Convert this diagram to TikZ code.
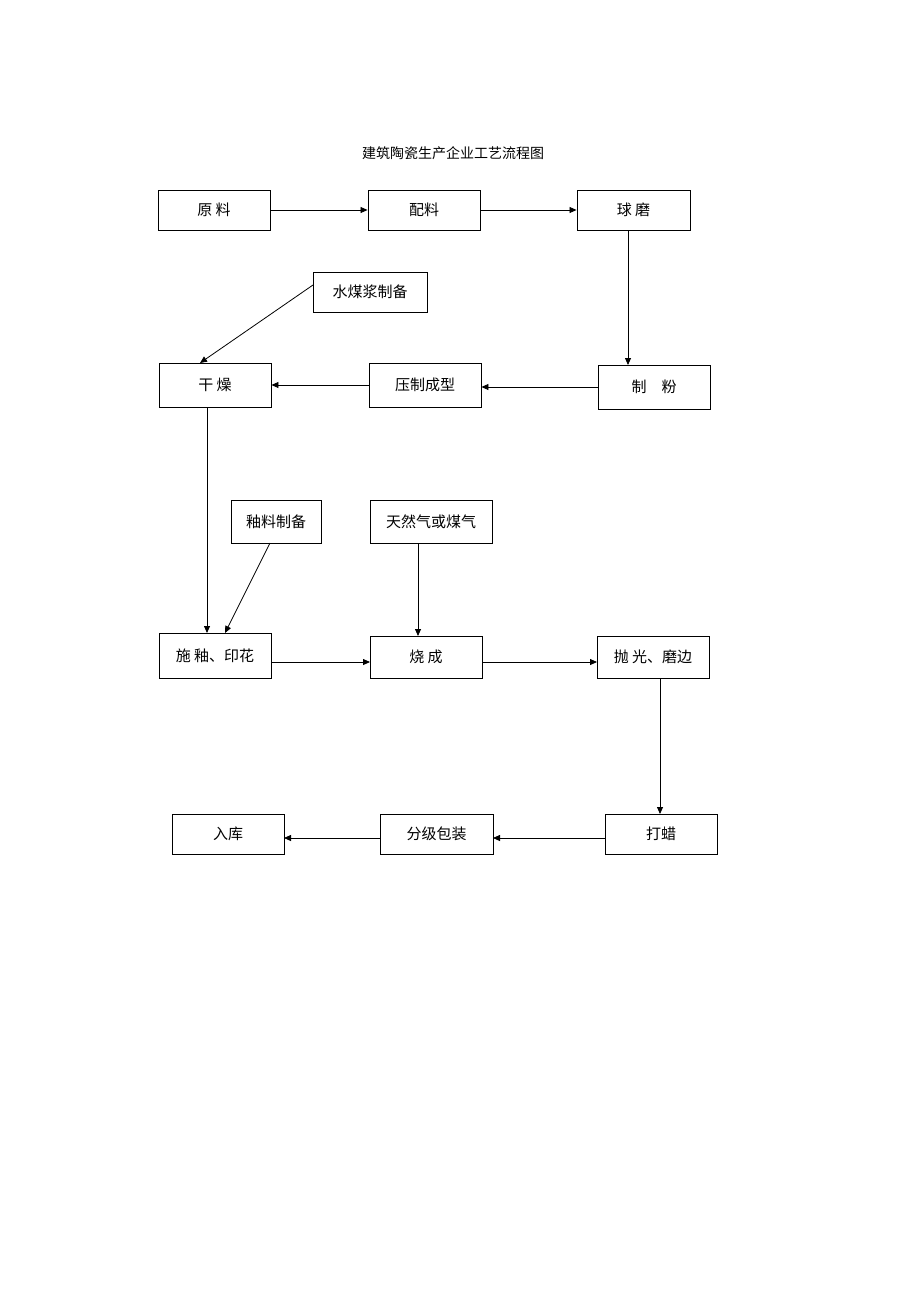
\documentclass[tikz,border=0pt]{standalone}
\usepackage{fontspec}
\setmainfont{Noto Sans CJK SC}
\usetikzlibrary{arrows.meta}
\begin{document}
\begin{tikzpicture}[x=1pt,y=-1pt,
  box/.style={draw,line width=0.9pt,inner sep=0pt,font=\fontsize{15}{18}\selectfont},
  arr/.style={-{Triangle[length=7pt,width=6pt]},line width=0.8pt}]
\useasboundingbox (0,0) rectangle (920,1301);
\fill[white] (0,0) rectangle (920,1301);
\newcommand{\bx}[6]{\node[box,minimum width=#4-#2,minimum height=#5-#3] (#1) at ({(#2+#4)/2},{(#3+#5)/2}) {#6};}
\node[font=\fontsize{14}{17}\selectfont] (title) at (453,153) {建筑陶瓷生产企业工艺流程图};
\bx{yl}{158}{190}{270}{230}{原 料}
\bx{pl}{368}{190}{480}{230}{配料}
\bx{qm}{577}{190}{690}{230}{球 磨}
\bx{sm}{313}{272}{427}{312}{水煤浆制备}
\bx{gz}{159}{363}{271}{407}{干 燥}
\bx{yz}{369}{363}{481}{407}{压制成型}
\bx{zf}{598}{365}{710}{409}{制　粉}
\bx{ly}{231}{500}{321}{543}{釉料制备}
\bx{tr}{370}{500}{492}{543}{天然气或煤气}
\bx{sy}{159}{633}{271}{678}{施 釉、印花}
\bx{sc}{370}{636}{482}{678}{烧 成}
\bx{pg}{597}{636}{709}{678}{抛 光、磨边}
\bx{rk}{172}{814}{284}{854}{入库}
\bx{fj}{380}{814}{493}{854}{分级包装}
\bx{dl}{605}{814}{717}{854}{打蜡}
\draw[arr] (yl.east) -- (pl.west);
\draw[arr] (pl.east) -- (qm.west);
\draw[arr] (628,230) -- (628,365);
\draw[arr] (zf.west) -- (yz.east |- zf.west);
\draw[arr] (yz.west) -- (gz.east);
\draw[arr] (313,285) -- (200,363);
\draw[arr] (207,407) -- (207,633);
\draw[arr] (270,543) -- (225,633);
\draw[arr] (tr.south -| 418,0) -- (418,636);
\draw[arr] (271,662) -- (370,662);
\draw[arr] (482,662) -- (597,662);
\draw[arr] (660,678) -- (660,814);
\draw[arr] (dl.west |- 0,838) -- (493,838);
\draw[arr] (380,838) -- (284,838);
\end{tikzpicture}
\end{document}
